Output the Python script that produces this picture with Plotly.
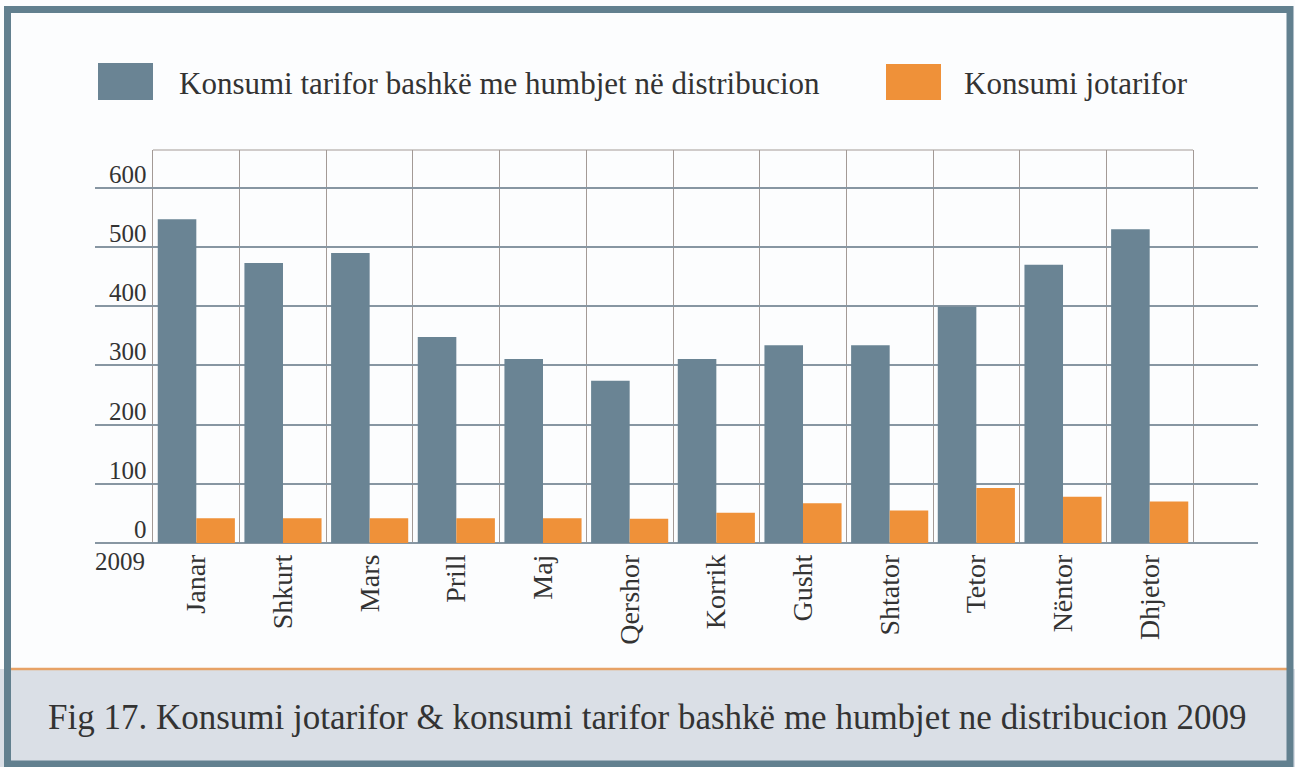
import plotly.graph_objects as go

# ---- data ----
months = ["Janar", "Shkurt", "Mars", "Prill", "Maj", "Qershor", "Korrik",
          "Gusht", "Shtator", "Tetor", "Nëntor", "Dhjetor"]
tarifor = [547, 473, 490, 348, 311, 274, 311, 334, 334, 399, 470, 530]
jotarifor = [42, 42, 42, 42, 42, 41, 51, 67, 55, 93, 78, 70]
series_names = ["Konsumi tarifor bashkë me humbjet në distribucion", "Konsumi jotarifor"]
y_ticks = [0, 100, 200, 300, 400, 500, 600]
year_label = "2009"
caption = "Fig 17. Konsumi jotarifor & konsumi tarifor bashkë me humbjet ne distribucion 2009"

# ---- style ----
GRAY = "#6a8494"
ORANGE = "#ef9139"
FRAME = "#62808f"
BAND = "#dadfe6"
BG = "#fcfdfe"
FONT = "Liberation Serif"
TXT = "#333333"

W, H = 1295, 767
L, R, T, B = 95, 1258, 150, 543


def px(x):
    return (x - L) / (R - L)


def py(y):
    return (B - y) / (B - T)


fig = go.Figure()
fig.add_trace(go.Bar(x=months, y=tarifor, name=series_names[0],
                     marker=dict(color=GRAY, line=dict(width=0)), showlegend=False))
fig.add_trace(go.Bar(x=months, y=jotarifor, name=series_names[1],
                     marker=dict(color=ORANGE, line=dict(width=0)), showlegend=False))

shapes = []
# caption band
shapes.append(dict(type="rect", xref="paper", yref="paper", x0=px(0), x1=px(W),
                   y0=py(669), y1=py(H), fillcolor=BAND, line=dict(width=0), layer="below"))
shapes.append(dict(type="line", xref="paper", yref="paper", x0=px(10), x1=px(1288),
                   y0=py(669), y1=py(669), line=dict(color="#e7a266", width=2.5)))
# outer frame
shapes.append(dict(type="rect", xref="paper", yref="paper", x0=px(7.5), x1=px(1290),
                   y0=py(9.5), y1=py(764), fillcolor="rgba(0,0,0,0)",
                   line=dict(color=FRAME, width=7)))
# top line of the vertical grid box
shapes.append(dict(type="line", xref="x", yref="paper", x0=-0.5, x1=len(months) - 0.5,
                   y0=1, y1=1, line=dict(color="#a39a96", width=1)))
# legend swatches
shapes.append(dict(type="rect", xref="paper", yref="paper", x0=px(98), x1=px(153),
                   y0=py(100), y1=py(63), fillcolor=GRAY, line=dict(width=0)))
shapes.append(dict(type="rect", xref="paper", yref="paper", x0=px(886), x1=px(941),
                   y0=py(100), y1=py(64), fillcolor=ORANGE, line=dict(width=0)))

annotations = [
    dict(xref="paper", yref="paper", x=px(177), y=py(84), text=series_names[0],
         showarrow=False, xanchor="left", yanchor="middle",
         font=dict(family=FONT, size=31, color=TXT)),
    dict(xref="paper", yref="paper", x=px(962), y=py(84), text=series_names[1],
         showarrow=False, xanchor="left", yanchor="middle",
         font=dict(family=FONT, size=31, color=TXT)),
    dict(xref="paper", yref="paper", x=px(147), y=py(561), text=year_label,
         showarrow=False, xanchor="right", yanchor="middle",
         font=dict(family=FONT, size=25, color=TXT)),
    dict(xref="paper", yref="paper", x=px(647), y=py(717), text=caption,
         showarrow=False, xanchor="center", yanchor="middle",
         font=dict(family=FONT, size=35, color=TXT)),
]
# y tick labels sitting just above their gridlines, right-aligned
for v in y_ticks:
    annotations.append(dict(xref="paper", yref="y", x=px(149), y=v, text=str(v),
                            showarrow=False, xanchor="right", yanchor="bottom", yshift=-2,
                            font=dict(family=FONT, size=25, color=TXT)))

fig.update_layout(
    width=W, height=H,
    margin=dict(l=L, r=W - R, t=T, b=H - B, pad=0),
    paper_bgcolor=BG, plot_bgcolor="rgba(0,0,0,0)",
    barmode="group", bargap=0.11, bargroupgap=0,
    shapes=shapes, annotations=annotations,
    xaxis=dict(range=[-0.5 - (153 - L) / 86.7, len(months) - 0.5 + (R - 1193) / 86.7],
               tickson="boundaries", showgrid=True, gridcolor="#a39a96", gridwidth=1,
               ticks="", tickangle=-90, showline=False, zeroline=False,
               ticklabelstandoff=5,
               tickfont=dict(family=FONT, size=28, color=TXT)),
    yaxis=dict(range=[0, 664], tickvals=y_ticks, showticklabels=False,
               showgrid=True, gridcolor="#8796a2", gridwidth=1.5,
               zeroline=True, zerolinecolor="#8796a2", zerolinewidth=1.5,
               showline=False, ticks=""),
    showlegend=False,
)

fig.write_html("out.html", config={"displayModeBar": False},
               post_script="document.body.style.margin='0';document.body.style.overflow='hidden';")
